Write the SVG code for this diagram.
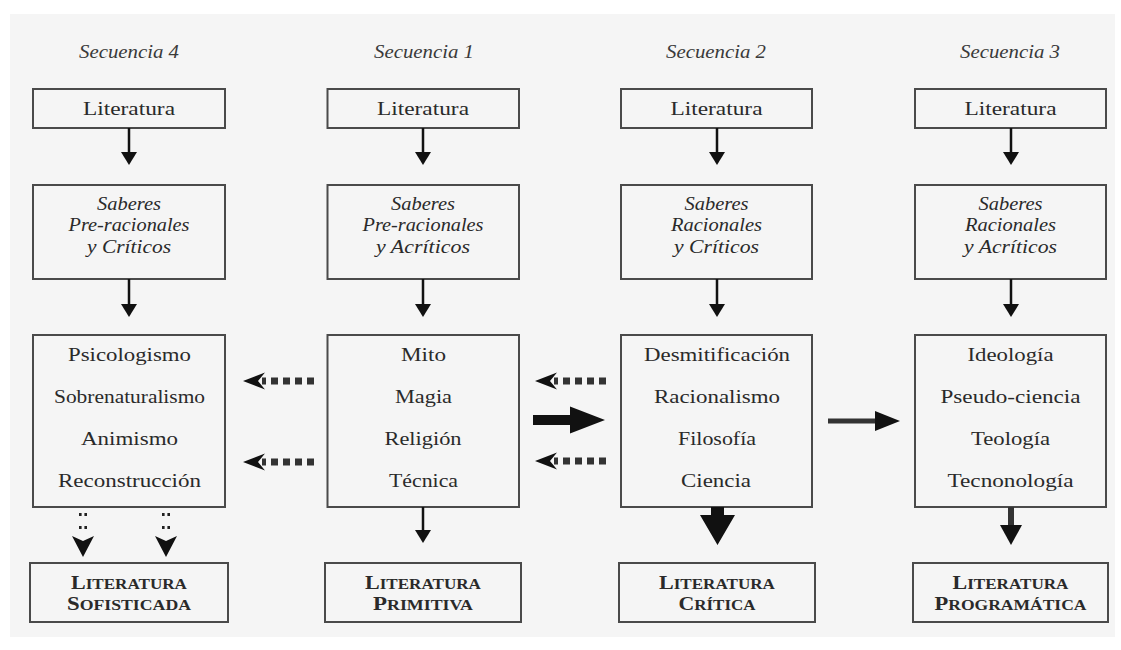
<svg xmlns="http://www.w3.org/2000/svg" width="1121" height="650" viewBox="0 0 1121 650">
<style>
.box{fill:none;stroke:#4a4a4a;stroke-width:2}
.t{font-family:"Liberation Serif","Times New Roman",serif;font-size:19px;fill:#2a2a2a;text-anchor:middle}
.it{font-style:italic}
.ti{font-family:"Liberation Serif","Times New Roman",serif;font-size:18px;font-style:italic;fill:#3a3a3a;text-anchor:middle}
.sc{font-family:"Liberation Serif","Times New Roman",serif;font-weight:bold;fill:#2a2a2a;text-anchor:middle;font-size:14px}
.big{font-size:18px}
.ar{fill:#111}
.ln{stroke:#111;stroke-width:2.5;fill:none}
.dash{stroke:#333;stroke-width:7;fill:none;stroke-dasharray:7 5}
</style>
<defs>
<g id="smallHead"><polygon points="-8,0 8,0 0,13"/></g>
<g id="leftDash"><polygon points="0,0 22,-8.5 15,0 22,8.5" fill="#111"/><path class="dash" d="M71,0 H19"/></g>
<g id="dotDown"><rect x="-4" y="0" width="2.6" height="3" fill="#222"/><rect x="1.4" y="0" width="2.6" height="3" fill="#222"/><rect x="-4" y="13" width="2.6" height="3" fill="#222"/><rect x="1.4" y="13" width="2.6" height="3" fill="#222"/><polygon points="-11,23 0,28 11,23 0,44" fill="#111"/></g>
</defs>
<rect x="0" y="0" width="1121" height="650" fill="#ffffff"/>
<rect x="10" y="14" width="1105" height="623" fill="#f5f5f5"/>

<!-- titles -->
<g id="titles">
<text class="ti" x="129" y="58" textLength="100" lengthAdjust="spacingAndGlyphs">Secuencia 4</text>
<text class="ti" x="424" y="58" textLength="100" lengthAdjust="spacingAndGlyphs">Secuencia 1</text>
<text class="ti" x="716" y="58" textLength="100" lengthAdjust="spacingAndGlyphs">Secuencia 2</text>
<text class="ti" x="1010" y="58" textLength="100" lengthAdjust="spacingAndGlyphs">Secuencia 3</text>
</g>

<!-- column 1 (Secuencia 4) -->
<g id="lit4"><rect class="box" x="33" y="89" width="192" height="39"/><text class="t" x="129" y="115" textLength="92" lengthAdjust="spacingAndGlyphs">Literatura</text></g>
<g id="sab4"><rect class="box" x="33" y="185" width="192" height="94"/>
<text class="t it" x="129" y="210" textLength="64" lengthAdjust="spacingAndGlyphs">Saberes</text>
<text class="t it" x="129" y="231" textLength="121" lengthAdjust="spacingAndGlyphs">Pre-racionales</text>
<text class="t it" x="129" y="253" textLength="84" lengthAdjust="spacingAndGlyphs">y Críticos</text></g>
<g id="list4"><rect class="box" x="33" y="335" width="192" height="172"/>
<text class="t" x="129.5" y="361" textLength="123" lengthAdjust="spacingAndGlyphs">Psicologismo</text>
<text class="t" x="129.5" y="403" textLength="151" lengthAdjust="spacingAndGlyphs">Sobrenaturalismo</text>
<text class="t" x="129.5" y="445" textLength="97" lengthAdjust="spacingAndGlyphs">Animismo</text>
<text class="t" x="129.5" y="487" textLength="143" lengthAdjust="spacingAndGlyphs">Reconstrucción</text></g>
<g id="out4"><rect class="box" x="30" y="563" width="198" height="59"/>
<text class="sc" x="129" y="589" textLength="116" lengthAdjust="spacingAndGlyphs"><tspan class="big">L</tspan>ITERATURA</text>
<text class="sc" x="129" y="610" textLength="124" lengthAdjust="spacingAndGlyphs"><tspan class="big">S</tspan>OFISTICADA</text></g>

<!-- column 2 (Secuencia 1) -->
<g id="lit1"><rect class="box" x="327.5" y="89" width="191.5" height="39"/><text class="t" x="423" y="115" textLength="92" lengthAdjust="spacingAndGlyphs">Literatura</text></g>
<g id="sab1"><rect class="box" x="327.5" y="185" width="191.5" height="94"/>
<text class="t it" x="423" y="210" textLength="64" lengthAdjust="spacingAndGlyphs">Saberes</text>
<text class="t it" x="423" y="231" textLength="121" lengthAdjust="spacingAndGlyphs">Pre-racionales</text>
<text class="t it" x="423" y="253" textLength="94" lengthAdjust="spacingAndGlyphs">y Acríticos</text></g>
<g id="list1"><rect class="box" x="327.5" y="335" width="191.5" height="172"/>
<text class="t" x="423.5" y="361" textLength="45" lengthAdjust="spacingAndGlyphs">Mito</text>
<text class="t" x="423.5" y="403" textLength="57" lengthAdjust="spacingAndGlyphs">Magia</text>
<text class="t" x="423" y="445" textLength="77" lengthAdjust="spacingAndGlyphs">Religión</text>
<text class="t" x="423.5" y="487" textLength="69" lengthAdjust="spacingAndGlyphs">Técnica</text></g>
<g id="out1"><rect class="box" x="325" y="563" width="196" height="59"/>
<text class="sc" x="423" y="589" textLength="116" lengthAdjust="spacingAndGlyphs"><tspan class="big">L</tspan>ITERATURA</text>
<text class="sc" x="423" y="610" textLength="100" lengthAdjust="spacingAndGlyphs"><tspan class="big">P</tspan>RIMITIVA</text></g>

<!-- column 3 (Secuencia 2) -->
<g id="lit2"><rect class="box" x="621" y="89" width="191" height="39"/><text class="t" x="716.5" y="115" textLength="92" lengthAdjust="spacingAndGlyphs">Literatura</text></g>
<g id="sab2"><rect class="box" x="621" y="185" width="191" height="94"/>
<text class="t it" x="716.5" y="210" textLength="64" lengthAdjust="spacingAndGlyphs">Saberes</text>
<text class="t it" x="716.5" y="231" textLength="91" lengthAdjust="spacingAndGlyphs">Racionales</text>
<text class="t it" x="716.5" y="253" textLength="85" lengthAdjust="spacingAndGlyphs">y Críticos</text></g>
<g id="list2"><rect class="box" x="621" y="335" width="191" height="172"/>
<text class="t" x="717" y="361" textLength="146" lengthAdjust="spacingAndGlyphs">Desmitificación</text>
<text class="t" x="717" y="403" textLength="126" lengthAdjust="spacingAndGlyphs">Racionalismo</text>
<text class="t" x="717" y="445" textLength="78" lengthAdjust="spacingAndGlyphs">Filosofía</text>
<text class="t" x="716" y="487" textLength="70" lengthAdjust="spacingAndGlyphs">Ciencia</text></g>
<g id="out2"><rect class="box" x="619" y="563" width="196" height="59"/>
<text class="sc" x="717" y="589" textLength="116" lengthAdjust="spacingAndGlyphs"><tspan class="big">L</tspan>ITERATURA</text>
<text class="sc" x="717" y="610" textLength="77" lengthAdjust="spacingAndGlyphs"><tspan class="big">C</tspan>RÍTICA</text></g>

<!-- column 4 (Secuencia 3) -->
<g id="lit3"><rect class="box" x="915" y="89" width="191" height="39"/><text class="t" x="1010.5" y="115" textLength="92" lengthAdjust="spacingAndGlyphs">Literatura</text></g>
<g id="sab3"><rect class="box" x="915" y="185" width="191" height="94"/>
<text class="t it" x="1010.5" y="210" textLength="64" lengthAdjust="spacingAndGlyphs">Saberes</text>
<text class="t it" x="1010.5" y="231" textLength="91" lengthAdjust="spacingAndGlyphs">Racionales</text>
<text class="t it" x="1010.5" y="253" textLength="93" lengthAdjust="spacingAndGlyphs">y Acríticos</text></g>
<g id="list3"><rect class="box" x="915" y="335" width="191" height="172"/>
<text class="t" x="1010.5" y="361" textLength="86" lengthAdjust="spacingAndGlyphs">Ideología</text>
<text class="t" x="1010.5" y="403" textLength="140" lengthAdjust="spacingAndGlyphs">Pseudo-ciencia</text>
<text class="t" x="1010.5" y="445" textLength="79" lengthAdjust="spacingAndGlyphs">Teología</text>
<text class="t" x="1010.5" y="487" textLength="126" lengthAdjust="spacingAndGlyphs">Tecnonología</text></g>
<g id="out3"><rect class="box" x="913" y="563" width="195" height="59"/>
<text class="sc" x="1010.5" y="589" textLength="116" lengthAdjust="spacingAndGlyphs"><tspan class="big">L</tspan>ITERATURA</text>
<text class="sc" x="1010.5" y="610" textLength="152" lengthAdjust="spacingAndGlyphs"><tspan class="big">P</tspan>ROGRAMÁTICA</text></g>

<!-- connectors -->
<g id="connectors">
<path class="ln" d="M129,128 V153 M423,128 V153 M717,128 V153 M1011,128 V153"/>
<use href="#smallHead" x="129" y="152" class="ar"/>
<use href="#smallHead" x="423" y="152" class="ar"/>
<use href="#smallHead" x="717" y="152" class="ar"/>
<use href="#smallHead" x="1011" y="152" class="ar"/>
<path class="ln" d="M129,279 V305 M423,279 V305 M717,279 V305 M1011,279 V305"/>
<use href="#smallHead" x="129" y="304" class="ar"/>
<use href="#smallHead" x="423" y="304" class="ar"/>
<use href="#smallHead" x="717" y="304" class="ar"/>
<use href="#smallHead" x="1011" y="304" class="ar"/>
<use href="#leftDash" x="243" y="381"/>
<use href="#leftDash" x="243" y="462"/>
<use href="#leftDash" x="535" y="381"/>
<use href="#leftDash" x="535" y="461"/>
<polygon class="ar" points="533,415 570,415 570,406.5 605,420 570,433.5 570,425 533,425"/>
<rect x="828" y="418.5" width="48" height="5" fill="#333"/>
<polygon class="ar" points="875,411 900,421 875,431"/>
<use href="#dotDown" x="83" y="513"/>
<use href="#dotDown" x="166" y="513"/>
<path class="ln" d="M423,507 V531"/>
<use href="#smallHead" x="423" y="530" class="ar"/>
<polygon class="ar" points="711,507 724,507 724,515 735,515 717.5,545 700,515 711,515"/>
<rect x="1008" y="507" width="6" height="19" fill="#333"/>
<polygon class="ar" points="1000,525 1022,525 1011,545"/>
</g>
</svg>
